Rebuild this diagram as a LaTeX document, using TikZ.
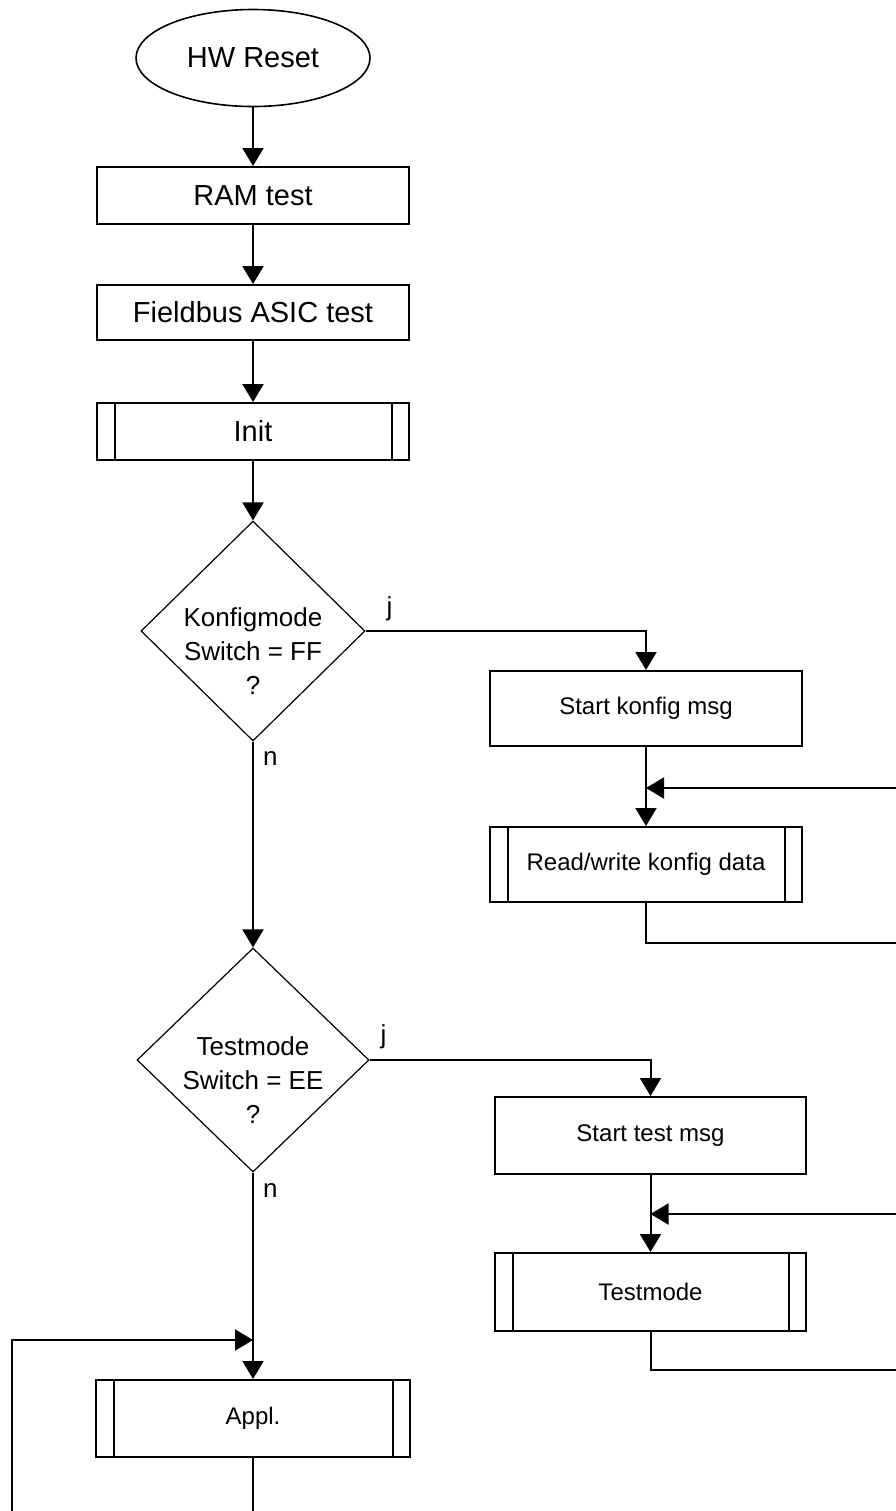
\documentclass[tikz,border=0pt]{standalone}
\usepackage{fontspec}
\setmainfont{Liberation Sans}
\usetikzlibrary{calc,shapes.geometric,arrows.meta}

\begin{document}
\begin{tikzpicture}[
    x=0.5pt, y=-0.5pt,
    step box/.style={draw, line width=1pt, rectangle, inner sep=0pt,
        minimum width=156pt, font=\fontsize{14.5}{17}\selectfont},
    small box/.style={step box, minimum height=38pt, font=\fontsize{12}{14}\selectfont},
    decision/.style={draw, line width=0.6pt, diamond, inner sep=0pt},
    decision text/.style={align=center, font=\fontsize{13}{17}\selectfont},
    answer/.style={inner sep=0pt, font=\fontsize{13}{15}\selectfont},
    flow/.style={line width=1pt, -{Triangle[length=9pt,width=10.5pt]}}
    ]
    \useasboundingbox (0,0) rectangle (895,1511);
    % Main column
    \node[draw, ellipse, line width=0.8pt, inner sep=0pt, minimum width=117pt,
        minimum height=48.5pt, font=\fontsize{14.5}{17}\selectfont] (reset) at (253,58) {HW Reset};
    \node[step box, minimum height=28.5pt] (ram) at (253,195.5) {RAM test};
    \node[step box, minimum height=27.5pt] (asic) at (253,312.5) {Fieldbus ASIC test};
    \node[step box, minimum height=28.5pt] (init) at (253,431.5) {Init};
    \node[decision, minimum width=112pt, minimum height=110pt,
        label={[decision text, yshift=-10pt]center:{Konfigmode\\Switch = FF\\?}}] (konf) at (253,631) {};
    \node[decision, minimum width=116pt, minimum height=112pt,
        label={[decision text, yshift=-10pt]center:{Testmode\\Switch = EE\\?}}] (test) at (253,1060) {};
    \node[small box, minimum width=157pt, minimum height=38.5pt] (appl) at (253,1418.5) {Appl.};
    % Konfig branch
    \node[small box, minimum height=37.5pt] (kmsg) at (646,708.5) {Start konfig msg};
    \node[small box, minimum height=37.5pt] (kdata) at (646,864.5) {Read/write konfig data};
    % Test branch
    \node[small box, minimum width=155.5pt, minimum height=38.5pt] (tmsg) at (650.5,1135.5) {Start test msg};
    \node[small box, minimum width=155.5pt, minimum height=39pt] (tmode) at (650.5,1292) {Testmode};
    % Sub-process bars
    \foreach \n in {init,kdata,tmode,appl}
        \draw[line width=1pt] ([xshift=9.5pt]\n.north west) -- ([xshift=9.5pt]\n.south west)
            ([xshift=-9pt]\n.north east) -- ([xshift=-9pt]\n.south east);
    % Join points of the loops
    \path (kmsg.south) ++(0,41) coordinate (kjoin);
    \path (tmsg.south) ++(0,39) coordinate (tjoin);
    \path (appl.north) ++(0,-39) coordinate (ajoin);
    % Lines
    \draw[flow] (reset) -- (ram);
    \draw[flow] (ram) -- (asic);
    \draw[flow] (asic) -- (init);
    \draw[flow] (init) -- (konf);
    \draw[flow] (konf.east) node[answer, anchor=base west, xshift=10pt, yshift=8pt] {j} -| (kmsg.north);
    \draw[flow] (konf.south) node[answer, anchor=north west, xshift=4.5pt, yshift=-4.5pt] {n} -- (test.north);
    \draw[flow] (kmsg) -- (kdata);
    \draw[flow] (kdata.south) |- (900,943) |- (kjoin);
    \draw[flow] (test.east) node[answer, anchor=base west, xshift=5pt, yshift=8.5pt] {j} -| (tmsg.north);
    \draw[flow] (test.south) node[answer, anchor=north west, xshift=4.5pt, yshift=-5pt] {n} -- (appl.north);
    \draw[flow] (tmsg) -- (tmode);
    \draw[flow] (tmode.south) |- (900,1370) |- (tjoin);
    \draw[flow] (appl.south) |- (12,1530) |- (ajoin);
\end{tikzpicture}
\end{document}
